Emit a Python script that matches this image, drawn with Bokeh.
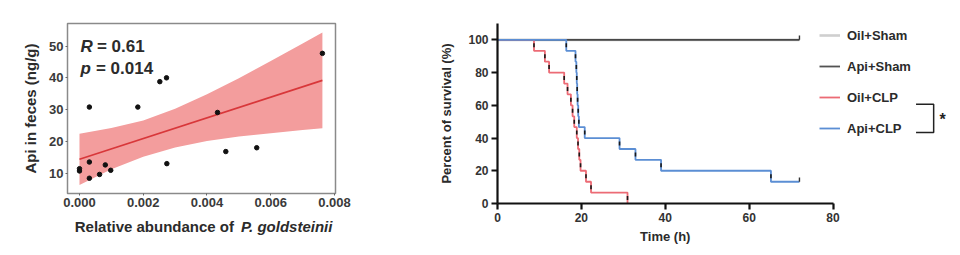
import numpy as np
from bokeh.plotting import figure
from bokeh.layouts import row
from bokeh.models import Range1d, FixedTicker, LinearAxis, Legend, LegendItem, PrintfTickFormatter
from bokeh.core.properties import value
from bokeh.embed import file_html
from bokeh.resources import INLINE

FONT = "Liberation Sans"

# ---------------- Left panel: correlation ----------------
abundance = [0.0, 0.0, 0.00031, 0.00031, 0.00031, 0.00063, 0.00081, 0.00098,
             0.00183, 0.00252, 0.00273, 0.00274, 0.00433, 0.00459, 0.00556, 0.00762]
api_feces = [11.4, 10.7, 30.8, 13.5, 8.4, 9.6, 12.6, 10.9,
             30.8, 38.8, 40.0, 13.0, 29.1, 16.8, 18.0, 47.7]
fit_x = [0.0, 0.00762]
fit_y = [14.4, 39.2]
band_x = [0.0, 0.001, 0.002, 0.003, 0.004, 0.005, 0.006, 0.007, 0.00762]
band_lower = [6.3, 11.2, 15.2, 18.1, 20.1, 21.5, 22.6, 23.6, 24.1]
band_upper = [22.4, 24.2, 26.6, 30.3, 34.8, 39.9, 45.3, 50.8, 54.3]
x_ticks_left = [0.0, 0.002, 0.004, 0.006, 0.008]
y_ticks_left = [10, 20, 30, 40, 50]
stat_names = ["R", "p"]
stat_values = ["= 0.61", "= 0.014"]
left_ylabel = "Api in feces (ng/g)"
left_xlabel_plain = "Relative abundance of"
left_xlabel_italic = "P. goldsteinii"

# ---------------- Right panel: survival ----------------
sham_t = [0, 72]
sham_y = [100, 100]
oil_clp_t = [0, 8.7, 11.3, 12.3, 15.9, 16.7, 17.5, 17.9, 18.3, 18.9, 19.2, 19.5, 19.8, 21.1, 22.3, 31.0]
oil_clp_y = [100, 93.3, 86.7, 80.0, 73.3, 66.7, 60.0, 53.3, 46.7, 40.0, 33.3, 26.7, 20.0, 13.3, 6.7, 0.0]
api_clp_t = [0, 16.4, 18.6, 18.8, 18.9, 19.0, 19.1, 19.25, 19.4, 20.8, 29.1, 32.9, 39.0, 65.2, 72.0]
api_clp_y = [100, 93.3, 86.7, 80.0, 73.3, 66.7, 60.0, 53.3, 46.7, 40.0, 33.3, 26.7, 20.0, 13.3, 13.3]
x_ticks_right = [0, 20, 40, 60, 80]
y_ticks_right = [0, 20, 40, 60, 80, 100]
group_names = ["Oil+Sham", "Api+Sham", "Oil+CLP", "Api+CLP"]
group_colors = ["#cfcfcf", "#1a1a1a", "#EC6B75", "#5B8ED4"]
right_xlabel = "Time (h)"
right_ylabel = "Percent of survival (%)"

TXT = "#2b2b2b"


def title_axis(fig, pos, text, style, size, standoff):
    """An extra bottom axis that only carries one piece of the axis title."""
    ax = LinearAxis(ticker=FixedTicker(ticks=[pos]),
                    major_label_overrides={pos: text})
    ax.axis_line_color = None
    ax.major_tick_line_color = None
    ax.minor_tick_line_color = None
    ax.major_tick_out = 0
    ax.major_tick_in = 0
    ax.major_label_text_font = FONT
    ax.major_label_text_font_size = size
    ax.major_label_text_font_style = style
    ax.major_label_text_color = TXT
    ax.major_label_standoff = standoff
    fig.add_layout(ax, "below")
    return ax


# ================= Left figure =================
p1 = figure(frame_width=268, frame_height=170,
            x_range=Range1d(-0.000376, 0.008031), y_range=Range1d(3.6, 57.1),
            min_border_left=67, min_border_right=85, min_border_top=23, min_border_bottom=62,
            output_backend="svg", toolbar_location=None)
p1.varea(x=band_x, y1=band_lower, y2=band_upper, fill_color="#F39D9D", fill_alpha=1.0)
p1.line(fit_x, fit_y, line_color="#D8373A", line_width=1.6)
p1.scatter(abundance, api_feces, size=4.5, color="#111111")

p1.xgrid.visible = False
p1.ygrid.visible = False
p1.outline_line_color = "#8a8a8a"
p1.outline_line_width = 1.5
p1.background_fill_color = "white"
p1.border_fill_color = "white"

for ax in (p1.xaxis[0], p1.yaxis[0]):
    ax.axis_line_color = None
    ax.major_tick_line_color = "#666666"
    ax.major_tick_out = 2
    ax.major_tick_in = 0
    ax.minor_tick_line_color = None
    ax.major_label_text_font = FONT
    ax.major_label_text_font_size = "13px"
    ax.major_label_text_font_style = "bold"
    ax.major_label_text_color = "#3a3a3a"
    ax.major_label_standoff = 2
p1.xaxis[0].ticker = FixedTicker(ticks=x_ticks_left)
p1.xaxis[0].formatter = PrintfTickFormatter(format="%.3f")
p1.yaxis[0].ticker = FixedTicker(ticks=y_ticks_left)
p1.yaxis[0].axis_label = left_ylabel
p1.yaxis[0].axis_label_text_font = FONT
p1.yaxis[0].axis_label_text_font_size = "15px"
p1.yaxis[0].axis_label_text_font_style = "bold"
p1.yaxis[0].axis_label_text_color = TXT
p1.yaxis[0].axis_label_standoff = 7

# x-axis title: plain part + italic species name on the same row
title_axis(p1, 0.00235, left_xlabel_plain, "bold", "15px", 8)
title_axis(p1, 0.0065, left_xlabel_italic, "bold italic", "15px", -20)

# statistics text (italic symbol + bold value)
stat_y = [49.75, 43.0]
p1.text(x=[0.00003, 0.00003], y=stat_y, text=stat_names,
        text_font=value(FONT), text_font_size="17px", text_font_style="bold italic",
        text_color=TXT, text_baseline="alphabetic", text_align="left")
p1.text(x=[0.00003, 0.00003], y=stat_y, text=stat_values, x_offset=[16.5, 15.5],
        text_font=value(FONT), text_font_size="17px", text_font_style="bold",
        text_color=TXT, text_baseline="alphabetic", text_align="left")

# ================= Right figure =================
p2 = figure(frame_width=463, frame_height=180,
            x_range=Range1d(0, 110.4), y_range=Range1d(0, 110),
            min_border_left=77, min_border_right=0, min_border_top=19, min_border_bottom=56,
            output_backend="svg", toolbar_location=None)
p2.xgrid.visible = False
p2.ygrid.visible = False
p2.outline_line_color = None
p2.background_fill_color = "white"
p2.border_fill_color = "white"

r_oil_sham = p2.line(sham_t, sham_y, line_color=group_colors[0], line_width=2.6)
r_api_sham = p2.line(sham_t, sham_y, line_color=group_colors[1], line_width=1.8, line_alpha=0.75)
r_oil_clp = p2.step(oil_clp_t, oil_clp_y, mode="after", line_color=group_colors[2], line_width=1.8)
r_api_clp = p2.step(api_clp_t, api_clp_y, mode="after", line_color=group_colors[3], line_width=1.8)

# event symbols on the drops
for tt, yy in ((oil_clp_t, oil_clp_y), (api_clp_t, api_clp_y)):
    ex = [tt[i] for i in range(1, len(tt)) if yy[i] < yy[i - 1]]
    ey = [(yy[i] + yy[i - 1]) / 2 for i in range(1, len(tt)) if yy[i] < yy[i - 1]]
    p2.scatter(ex, ey, marker="dash", angle=np.pi / 2, size=4, line_color="#1a1a1a", line_width=1.6)

# censor ticks at the end of follow-up
cx = [sham_t[-1], api_clp_t[-1]]
cy = [sham_y[-1], api_clp_y[-1]]
p2.segment(x0=cx, y0=cy, x1=cx, y1=[v + 2.6 for v in cy], line_color="#333333", line_width=1.4)

xa = p2.xaxis[0]
ya = p2.yaxis[0]
for ax in (xa, ya):
    ax.axis_line_color = "#111111"
    ax.axis_line_width = 2.2
    ax.major_tick_line_color = "#111111"
    ax.major_tick_line_width = 2.2
    ax.major_tick_out = 6
    ax.major_tick_in = 0
    ax.minor_tick_line_color = None
    ax.major_label_text_font = FONT
    ax.major_label_text_font_size = "12px"
    ax.major_label_text_font_style = "bold"
    ax.major_label_text_color = "#333333"
    ax.major_label_standoff = 3
xa.ticker = FixedTicker(ticks=x_ticks_right)
xa.bounds = (0, 80)
ya.ticker = FixedTicker(ticks=y_ticks_right)
ya.axis_label = right_ylabel
ya.axis_label_standoff = 11
ya.axis_label_text_font = FONT
ya.axis_label_text_font_size = "13px"
ya.axis_label_text_font_style = "bold"
ya.axis_label_text_color = TXT

# x title centred on the 0-80 axis
title_axis(p2, 40, right_xlabel, "bold", "13px", 4)

legend = Legend(items=[LegendItem(label=group_names[0], renderers=[r_oil_sham]),
                       LegendItem(label=group_names[1], renderers=[r_api_sham]),
                       LegendItem(label=group_names[2], renderers=[r_oil_clp]),
                       LegendItem(label=group_names[3], renderers=[r_api_clp])],
                location=(322, 65), orientation="vertical",
                glyph_width=21, glyph_height=20, label_height=20, label_standoff=7,
                spacing=11, padding=0, margin=0,
                border_line_alpha=0, background_fill_alpha=0,
                label_text_font=FONT, label_text_font_size="13px",
                label_text_font_style="bold", label_text_color=TXT)
p2.add_layout(legend)

# significance bracket between the CLP groups
p2.line(x=[99.8, 104.0, 104.0, 99.8], y=[60.7, 60.7, 43.4, 43.4], line_color="#222222", line_width=1.5)
p2.text(x=[105.4], y=[51.5], text=["*"], text_font=value(FONT), text_font_size="16px",
        text_font_style="bold", text_color="#222222", text_baseline="middle", text_align="left")

layout = row(p1, p2)
open("out.html", "w").write(file_html(layout, INLINE))
